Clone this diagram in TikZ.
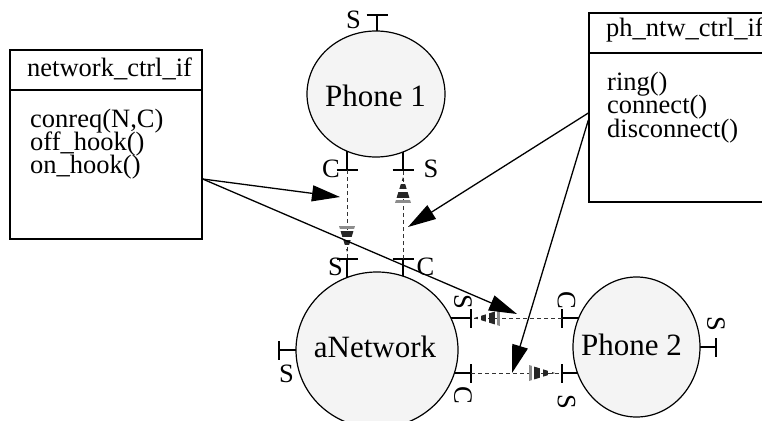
\documentclass[tikz,border=0pt]{standalone}
\usepackage{fontspec}
\setmainfont{Liberation Serif}
\usetikzlibrary{arrows.meta,shapes.geometric,backgrounds}
\definecolor{bubble}{HTML}{F4F4F4}
\tikzset{
  smalltxt/.style={font=\fontsize{26.5}{23}\selectfont, inner sep=0pt},
  bigtxt/.style={font=\fontsize{31}{31}\selectfont, inner sep=0pt},
  unit/.style={ellipse, draw, line width=1.2pt, fill=bubble, inner sep=0pt},
  ifbox/.style={draw, line width=1.3pt, inner sep=0pt},
  portline/.style={line width=1.3pt},
  flow/.style={dash pattern=on 4pt off 3pt, line width=0.9pt, draw=black!80},
  call/.style={line width=1.3pt, -{Triangle[length=28pt,width=16pt]}},
  stripehead/.pic={
    \begin{scope}
      \clip (0,0) -- (-26,8) -- (-26,-8) -- cycle;
      \fill[black!85] (0.5,-9) rectangle (-3.5,9);
      \fill[black!85] (-7,-9) rectangle (-12,9);
      \fill[black!85] (-15,-9) rectangle (-21,9);
      \fill[black!45] (-23,-9) rectangle (-26,9);
    \end{scope}
  }
}
\begin{document}
\begin{tikzpicture}[x=1pt,y=-1pt]
\useasboundingbox (0,0) rectangle (762,420);
\clip (0,0) rectangle (762,420);

% interface boxes
\node[ifbox, minimum width=192pt, minimum height=189pt] (ncif) at (106,144.5) {};
\draw[line width=1.3pt] (ncif.west |- 0,90) -- (ncif.east |- 0,90);
\node[smalltxt, anchor=base west] (nctitle) at (27,76) {network\_ctrl\_if};
\node[smalltxt, anchor=base west] (ncm1) at (30,127) {conreq(N,C)};
\node[smalltxt, anchor=base west] (ncm2) at (30,150) {off\_hook()};
\node[smalltxt, anchor=base west] (ncm3) at (30,173) {on\_hook()};

\node[ifbox, minimum width=186pt, minimum height=189pt] (phif) at (682,107.5) {};
\draw[line width=1.3pt] (phif.west |- 0,53) -- (phif.east |- 0,53);
\node[smalltxt, anchor=base west] (phtitle) at (606,37) {ph\_ntw\_ctrl\_if};
\node[smalltxt, anchor=base west] (phm1) at (607,90) {ring()};
\node[smalltxt, anchor=base west] (phm2) at (607,113.5) {connect()};
\node[smalltxt, anchor=base west] (phm3) at (607,137) {disconnect()};

% components
\node[unit, minimum width=138pt, minimum height=126pt] (p1) at (376,94) {};
\node[unit, minimum width=162pt, minimum height=156pt] (net) at (377,350) {};
\node[unit, minimum width=127pt, minimum height=140pt] (p2) at (636.5,347) {};
\node[bigtxt, anchor=base] (p1txt) at (375.5,106) {Phone 1};
\node[bigtxt, anchor=base] (nettxt) at (375,357) {aNetwork};
\node[bigtxt, anchor=base] (p2txt) at (631.5,355) {Phone 2};

% port ends
\coordinate (p1s) at (377,15);
\coordinate (p1c) at (347,170);
\coordinate (p1s2) at (403,170);
\coordinate (nets) at (347,259);
\coordinate (netc) at (403,259);
\coordinate (netl) at (279,350);
\coordinate (netrs) at (471,318);
\coordinate (netrc) at (471,373);
\coordinate (p2c) at (562,318);
\coordinate (p2s) at (562,373);
\coordinate (p2r) at (716,347);

% port stems, hidden inside the components
\begin{scope}[on background layer]
  \foreach \q/\nd in {p1s/p1, p1c/p1, p1s2/p1, nets/net, netc/net}
    \draw[portline] (\q) -- (\q |- \nd.center);
  \foreach \q/\nd in {netl/net, netrs/net, netrc/net, p2c/p2, p2s/p2, p2r/p2}
    \draw[portline] (\q) -- (\q -| \nd.center);
\end{scope}
\foreach \q in {p1s, p1c, p1s2, nets, netc}
  \draw[portline] ([xshift=-10.5pt]\q) -- ([xshift=10.5pt]\q);
\foreach \q in {netl, netrs, netrc, p2c, p2s, p2r}
  \draw[portline] ([yshift=-9.5pt]\q) -- ([yshift=9.5pt]\q);

% port labels
\node[smalltxt, anchor=base] (lp1s) at (353.5,28.5) {S};
\node[smalltxt, anchor=base] (lp1c) at (331,177) {C};
\node[smalltxt, anchor=base] (lp1s2) at (431,177) {S};
\node[smalltxt, anchor=base] (lnets) at (335.5,275) {S};
\node[smalltxt, anchor=base] (lnetc) at (425.5,275) {C};
\node[smalltxt, anchor=base] (lnetl) at (286.5,382) {S};
\node[smalltxt, rotate=-90] (lnetrs) at (463,301.5) {S};
\node[smalltxt, rotate=-90] (lnetrc) at (463,395.5) {C};
\node[smalltxt, rotate=-90] (lp2c) at (566.5,300) {C};
\node[smalltxt, rotate=-90] (lp2s) at (566.5,402) {S};
\node[smalltxt, rotate=-90] (lp2r) at (716,324) {S};

% signal flows between ports
\draw[flow] (p1c) -- (nets);
\path (347,252) pic[rotate=-90] {stripehead};
\draw[flow] (netc) -- (p1s2);
\path (403,177) pic[rotate=90] {stripehead};
\draw[flow] (p2c) -- (netrs);
\path (474,318) pic[rotate=180] {stripehead};
\draw[flow] (netrc) -- (p2s);
\path (555,373) pic {stripehead};

% interface annotations
\coordinate (t1) at (340,197);
\coordinate (t2) at (517,314);
\coordinate (t3) at (408,227);
\coordinate (t4) at (512,373);
\draw[call] (ncif.east |- 0,179) -- (t1);
\draw[call] (ncif.east |- 0,179) -- (t2);
\draw[call] (phif.west |- 0,113) -- (t3);
\draw[call] (phif.west |- 0,120) -- (t4);
\end{tikzpicture}
\end{document}
